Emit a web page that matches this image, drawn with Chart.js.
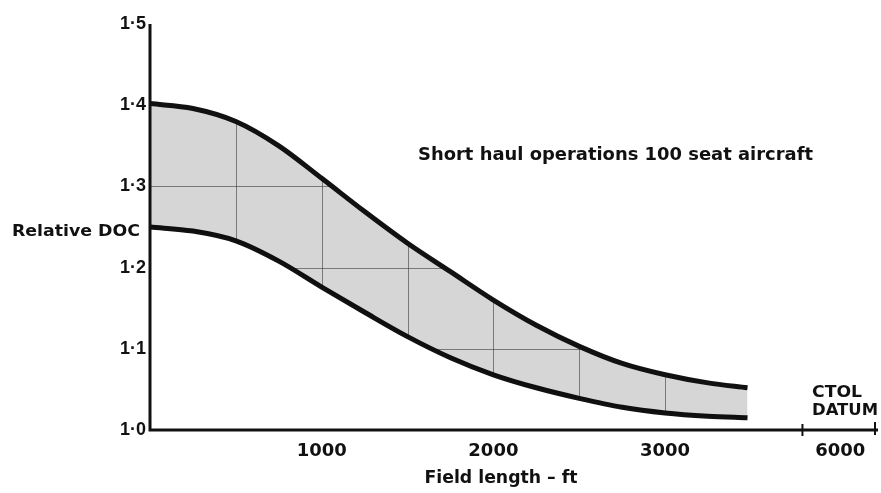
<!DOCTYPE html>
<html>
<head>
<meta charset="utf-8">
<script src="https://cdn.jsdelivr.net/npm/chart.js@4/dist/chart.umd.min.js"></script>
<style>
  html, body { margin: 0; padding: 0; background: #fff; }
  #wrap { width: 881px; height: 493px; position: relative; }
</style>
</head>
<body>
<div id="wrap"><canvas id="c" width="881" height="493"></canvas></div>
<script>
// Field length (ft) at which the band edges are sampled
const fieldLength = [0, 250, 500, 750, 1000, 1250, 1500, 1750, 2000, 2250, 2500, 2750, 3000, 3250, 3480];
// Upper and lower bounds of relative direct operating cost
const docUpper = [1.402, 1.396, 1.380, 1.350, 1.310, 1.269, 1.230, 1.195, 1.160, 1.129, 1.103, 1.082, 1.068, 1.058, 1.052];
const docLower = [1.250, 1.245, 1.233, 1.208, 1.176, 1.145, 1.115, 1.089, 1.068, 1.052, 1.039, 1.028, 1.021, 1.017, 1.015];

// Axis ticks
const xTicks = [1000, 2000, 3000];
const yTicks = [1.0, 1.1, 1.2, 1.3, 1.4, 1.5];
// Broken axis: CTOL datum shown at a compressed position
const axisBreakAt = 3800;
const datumPos = 4020;
const datumLabel = '6000';
// Faint grid printed beneath the shaded band
const bandGridX = [500, 1000, 1500, 2000, 2500, 3000];
const bandGridY = [1.1, 1.2, 1.3];

const FONT = '"Liberation Sans", Arial, Helvetica, sans-serif';
const WIDE = '"DejaVu Sans", Verdana, sans-serif';
const fmtY = v => v.toFixed(1).replace('.', '\u00B7');

const toPts = ys => fieldLength.map((x, i) => ({ x: x, y: ys[i] }));

// Draws text squeezed or stretched to a given width (left or centre anchored)
function fillTextFit(ctx, text, x, y, width, size, align) {
  ctx.font = 'bold ' + size + 'px ' + WIDE;
  const w = ctx.measureText(text).width;
  const k = width / w;
  ctx.save();
  ctx.translate(align === 'center' ? x - width / 2 : x, y);
  ctx.scale(k, 1);
  ctx.textAlign = 'left';
  ctx.fillText(text, 0, 0);
  ctx.restore();
}

// Grid lines visible only inside the band
const bandGrid = {
  id: 'bandGrid',
  beforeDatasetsDraw(chart) {
    const ctx = chart.ctx;
    const up = chart.getDatasetMeta(0).data;
    const lo = chart.getDatasetMeta(1).data;
    const xs = chart.scales.x, ys = chart.scales.y;
    ctx.save();
    ctx.beginPath();
    up.forEach((p, i) => i ? ctx.lineTo(p.x, p.y) : ctx.moveTo(p.x, p.y));
    for (let i = lo.length - 1; i >= 0; i--) ctx.lineTo(lo[i].x, lo[i].y);
    ctx.closePath();
    ctx.clip();
    ctx.strokeStyle = 'rgba(70,70,70,0.6)';
    ctx.lineWidth = 1;
    bandGridX.forEach(v => {
      const px = Math.round(xs.getPixelForValue(v)) + 0.5;
      ctx.beginPath(); ctx.moveTo(px, ys.top); ctx.lineTo(px, ys.bottom); ctx.stroke();
    });
    bandGridY.forEach(v => {
      const py = Math.round(ys.getPixelForValue(v)) + 0.5;
      ctx.beginPath(); ctx.moveTo(xs.left, py); ctx.lineTo(xs.right, py); ctx.stroke();
    });
    ctx.restore();
  }
};

// Axis lines, break marks and text labels
const decorations = {
  id: 'decorations',
  afterDraw(chart) {
    const ctx = chart.ctx;
    const xs = chart.scales.x, ys = chart.scales.y;
    const x0 = xs.left, y0 = ys.bottom;
    ctx.save();
    ctx.strokeStyle = '#111';
    ctx.lineWidth = 3;
    ctx.beginPath();
    ctx.moveTo(x0, ys.top);
    ctx.lineTo(x0, y0);
    ctx.lineTo(xs.right, y0);
    ctx.stroke();

    // break mark on the field-length axis
    ctx.lineWidth = 2;
    const bx = xs.getPixelForValue(axisBreakAt);
    ctx.beginPath(); ctx.moveTo(bx, y0 - 6); ctx.lineTo(bx, y0 + 6); ctx.stroke();
    const dx = xs.right - 3;
    ctx.beginPath(); ctx.moveTo(dx, y0 - 8); ctx.lineTo(dx, y0 + 5); ctx.stroke();

    ctx.fillStyle = '#111';
    ctx.textBaseline = 'middle';
    fillTextFit(ctx, 'Relative DOC', 12, 232, 128, 16.5);
    fillTextFit(ctx, 'Short haul operations 100 seat aircraft', 418, 155, 395, 18);
    fillTextFit(ctx, 'CTOL', 812, 393, 50, 16.5);
    fillTextFit(ctx, 'DATUM', 812, 411, 66, 16.5);
    fillTextFit(ctx, 'Field length \u2013 ft', 501, 478, 153, 17.5, 'center');
    ctx.restore();
  }
};

new Chart(document.getElementById('c'), {
  type: 'line',
  data: {
    datasets: [
      {
        data: toPts(docUpper),
        borderColor: '#111',
        borderWidth: 5,
        pointRadius: 0,
        cubicInterpolationMode: 'monotone',
        fill: '+1',
        backgroundColor: 'rgba(0,0,0,0.16)'
      },
      {
        data: toPts(docLower),
        borderColor: '#111',
        borderWidth: 5,
        pointRadius: 0,
        cubicInterpolationMode: 'monotone',
        fill: false
      }
    ]
  },
  options: {
    responsive: false,
    animation: false,
    events: [],
    layout: { padding: { top: 24, right: 3, left: 0, bottom: 0 } },
    plugins: { legend: { display: false }, tooltip: { enabled: false } },
    scales: {
      x: {
        type: 'linear',
        min: 0,
        max: 4240,
        grid: { display: false, drawTicks: false },
        border: { display: false },
        afterBuildTicks: s => { s.ticks = xTicks.concat([datumPos]).map(v => ({ value: v })); },
        afterFit: s => { s.height = 63; },
        ticks: {
          autoSkip: false,
          maxRotation: 0,
          padding: 11,
          color: '#111',
          font: { family: WIDE, size: 18, weight: 'bold' },
          callback: v => v === datumPos ? datumLabel : String(v)
        }
      },
      y: {
        type: 'linear',
        min: 1.0,
        max: 1.5,
        grid: { display: false, drawTicks: false },
        border: { display: false },
        afterBuildTicks: s => { s.ticks = yTicks.map(v => ({ value: v })); },
        afterFit: s => { s.width = 150; },
        ticks: {
          padding: 4,
          color: '#111',
          font: { family: FONT, size: 18, weight: 'bold' },
          callback: v => fmtY(v)
        }
      }
    }
  },
  plugins: [bandGrid, decorations]
});
</script>
</body>
</html>
